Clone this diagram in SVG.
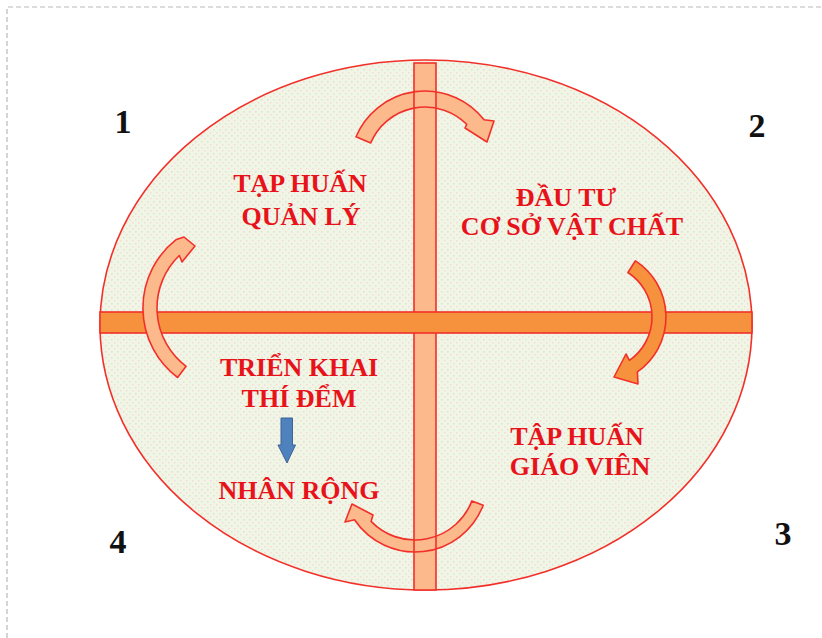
<svg xmlns="http://www.w3.org/2000/svg" width="822" height="638" viewBox="0 0 822 638">
<defs>
<pattern id="dots" width="6" height="6" patternUnits="userSpaceOnUse">
<rect width="6" height="6" fill="#f0f5e6"/>
<rect x="0" y="0" width="1.5" height="1.5" fill="#f5dcd6"/>
<rect x="3" y="3" width="1.5" height="1.5" fill="#dde3d0"/>
</pattern>
<style>
.lbl{font-family:"Liberation Serif","Times New Roman",serif;font-weight:bold;font-size:26px;fill:#e8121a;text-anchor:middle}
.num{font-family:"Liberation Serif","Times New Roman",serif;font-weight:bold;font-size:34px;fill:#111;text-anchor:middle}
.arc{fill:#fcb98c;stroke:#f2302a;stroke-width:1.6;stroke-linejoin:round}
.arcDark{fill:#f6923e;stroke:#f2302a;stroke-width:1.6;stroke-linejoin:round}
</style>
</defs>
<rect width="822" height="638" fill="#ffffff"/>
<path d="M7,638 V7 H822" fill="none" stroke="#b9b9b9" stroke-width="1.2" stroke-dasharray="5 3"/>

<g id="background">
<ellipse cx="426" cy="325" rx="326" ry="265" fill="url(#dots)" stroke="#f2302a" stroke-width="1.6"/>
<rect x="414" y="63" width="22" height="527" fill="#fcb98c"/>
</g>

<g id="connectors">
<path class="arc" d="M356,136.7 A75,75 0 0,1 484.1,119.8 L494,121 L487,142 L465,128 L466.7,124.3 A59,59 0 0,0 370.7,142.9 Z"/>
<path class="arc" d="M483.2,505.2 A73,73 0 0,1 354.5,519.8 L345,522 L352,504 L373,515 L371.1,521.4 A61,61 0 0,0 471.9,500.9 Z"/>
<rect x="414" y="63" width="22" height="527" fill="none" stroke="#f2302a" stroke-width="1.6"/>
<rect x="100" y="312" width="652" height="21" fill="#f6923e" stroke="#f2302a" stroke-width="1.6"/>
<path class="arc" d="M177.6,377.5 A87,87 0 0,1 176.4,239.4 L184,237 L195,246 L182,262 L179.3,255.5 A73,73 0 0,0 186.1,366.3 Z"/>
<path class="arcDark" d="M635.5,260.8 A67,67 0 0,1 637.4,371.9 L638,384 L614,377 L626,354 L629.4,360.4 A53,53 0 0,0 627.9,272.5 Z"/>
</g>

<g id="node-1">
<text class="num" x="123" y="133">1</text>
<text class="lbl" x="300" y="192">TẠP HUẤN</text>
<text class="lbl" x="301" y="225">QUẢN LÝ</text>
</g>

<g id="node-2">
<text class="num" x="757" y="137">2</text>
<text class="lbl" x="566" y="206">ĐẦU TƯ</text>
<text class="lbl" x="572" y="235">CƠ SỞ VẬT CHẤT</text>
</g>

<g id="node-3">
<text class="num" x="783" y="545">3</text>
<text class="lbl" x="577" y="445">TẬP HUẤN</text>
<text class="lbl" x="580" y="475">GIÁO VIÊN</text>
</g>

<g id="node-4">
<text class="num" x="118" y="553">4</text>
<text class="lbl" x="299" y="376">TRIỂN KHAI</text>
<text class="lbl" x="299" y="407">THÍ ĐỂM</text>
<path d="M281,418 H292.5 V445 H295.5 L287,463 L278,445 H281 Z" fill="#4f81bd" stroke="#3a639a" stroke-width="1"/>
<text class="lbl" x="299" y="499">NHÂN RỘNG</text>
</g>
</svg>
